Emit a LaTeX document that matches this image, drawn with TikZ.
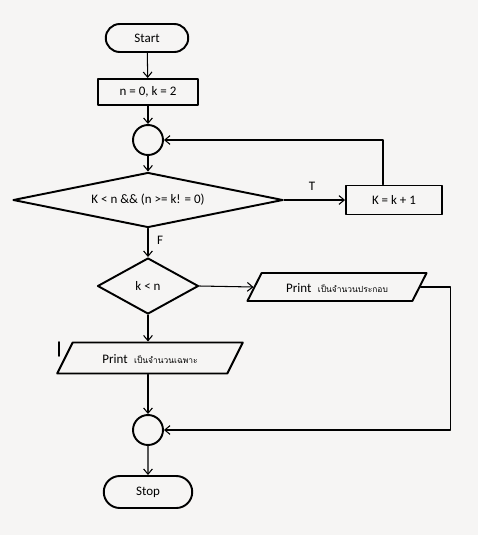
\documentclass[tikz,border=0pt]{standalone}
\usepackage{fontspec}
\setmainfont{Carlito}
\newfontfamily\thaifont[Script=Thai]{Loma}
\usetikzlibrary{shapes.geometric,shapes.misc,arrows.meta,calc}
\definecolor{paper}{RGB}{246,245,244}
\tikzset{
  box/.style={draw, line width=1.1pt, rectangle, inner sep=1pt},
  term/.style={draw, line width=1.1pt, rounded rectangle, inner sep=1pt},
  joint/.style={draw, line width=1.1pt, circle, minimum size=0.6cm, inner sep=0pt},
  test/.style={draw, line width=1.1pt, diamond, inner sep=0pt},
  io/.style={draw, line width=1.1pt, trapezium, trapezium left angle=62,
    trapezium right angle=118, trapezium stretches=true, inner sep=1pt,
    text height=1.5ex, text depth=0.3ex},
  flow/.style={line width=0.6pt, -{Straight Barb[length=3pt,width=5pt]}}
}
\newcommand{\thaitext}[1]{{\thaifont\fontsize{4.8}{5}\selectfont #1}}
\begin{document}
\begin{tikzpicture}[x=0.02cm, y=-0.02cm, font=\fontsize{7.4}{8}\selectfont,
  line cap=round, line join=round]
  \useasboundingbox[fill=paper] (0,0) rectangle (478,535);
  % main column
  \node[term, minimum width=1.72cm, minimum height=0.56cm] (start) at (147,38) {Start};
  \node[box, minimum width=2.0cm, minimum height=0.52cm] (init) at (148,92) {n = 0, k = 2};
  \node[joint] (loop) at (148,140) {};
  \node[test, aspect=4.9, minimum width=5.4cm, minimum height=1.1cm] (cond) at (148,200) {K < n \&\& (n >= k! = 0)};
  \node[box, minimum width=1.92cm, minimum height=0.58cm] (inc) at (394,200) {K = k + 1};
  \node[test, aspect=1.8, minimum width=2.02cm, minimum height=1.12cm] (check) at (148,286) {k < n};
  \node[io, minimum width=3.6cm, minimum height=0.56cm] (composite) at (337,287)
    {Print\enspace\thaitext{เป็นจำนวนประกอบ}};
  \node[io, minimum width=3.72cm, minimum height=0.62cm] (prime) at (150,358)
    {Print\enspace\thaitext{เป็นจำนวนเฉพาะ}};
  \node[joint] (merge) at (148,430) {};
  \node[term, minimum width=1.84cm, minimum height=0.64cm] (stop) at (148,492) {Stop};
  % labels
  \node (tlabel) at (312,186) {T};
  \node (flabel) at (160,240) {F};
  % connectors
  \draw[flow] (start) -- (init);
  \draw[flow] (init) -- (loop);
  \draw[flow] (loop) -- (cond);
  \draw[flow] (cond.east) -- (inc.west);
  \draw[flow] ($(inc.north)+(-11,0)$) |- (loop.east);
  \draw[flow] (cond.south) -- (check.north);
  \draw[flow] (check.east) -- (composite.west);
  \draw[flow] (check.south) -- (check.south |- prime.north);
  \draw[flow] (merge |- prime.south) -- (merge.north);
  \draw[flow] (composite.east) -- ++(30,0) |- (merge.east);
  \draw[flow] (merge) -- (stop);
  % stray mark
  \draw[line width=1.1pt] (59,342) -- (59,356);
\end{tikzpicture}
\end{document}
